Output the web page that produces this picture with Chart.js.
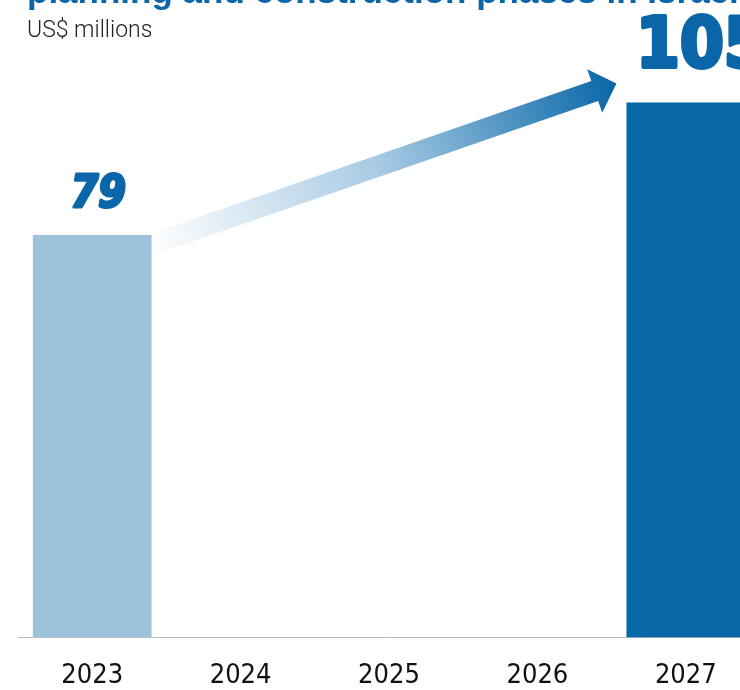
<!DOCTYPE html>
<html>
<head>
<meta charset="utf-8">
<script src="https://cdn.jsdelivr.net/npm/chart.js@4"></script>
<style>
  html, body { margin: 0; padding: 0; background: #fff; overflow: hidden; }
  #wrap { position: relative; width: 740px; height: 690px; overflow: hidden; }
  #title {
    position: absolute; left: 27px; top: -27px; white-space: nowrap;
    font: bold 35px "Liberation Sans", Arial, sans-serif; line-height: 35px; color: #0a66a8;
  }
  #sub {
    position: absolute; left: 27px; top: 16px; white-space: nowrap;
    font: 300 23px Roboto, "Liberation Sans", sans-serif; color: #222;
  }
  canvas { position: absolute; left: 0; top: 0; }
</style>
</head>
<body>
<div id="wrap">
  <canvas id="chart" width="760" height="690"></canvas>
  <div id="title">planning and construction phases in Israel</div>
  <div id="sub">US$ millions</div>
</div>
<script>
const years = ["2023", "2024", "2025", "2026", "2027"];
const spending = [79, null, null, null, 105];
const barColors = ["#9dc3dc", "#9dc3dc", "#9dc3dc", "#9dc3dc", "#0767a7"];
const valueLabels = ["79", "", "", "", "105"];

// value labels above the two bars
const labelPlugin = {
  id: "valueLabels",
  afterDatasetsDraw(chart) {
    const ctx = chart.ctx;
    const bars = chart.getDatasetMeta(0).data;
    ctx.save();
    ctx.fillStyle = "#0a66a8";
    ctx.strokeStyle = "#0a66a8";
    ctx.lineJoin = "round";
    ctx.textAlign = "center";
    ctx.textBaseline = "alphabetic";
    bars.forEach((bar, i) => {
      if (!valueLabels[i]) return;
      if (i === 0) {
        ctx.font = 'italic bold 44px "DejaVu Sans Condensed", "DejaVu Sans", sans-serif';
        ctx.lineWidth = 3;
        ctx.fillText(valueLabels[i], bar.x + 6, bar.y - 28);
        ctx.strokeText(valueLabels[i], bar.x + 6, bar.y - 28);
      } else {
        ctx.font = 'bold 70px "DejaVu Sans Condensed", "DejaVu Sans", sans-serif';
        ctx.lineWidth = 4;
        ctx.fillText(valueLabels[i], bar.x + 16, bar.y - 35);
        ctx.strokeText(valueLabels[i], bar.x + 16, bar.y - 35);
      }
    });
    ctx.restore();
  }
};

// gradient arrow from the first bar to the last one
const arrowPlugin = {
  id: "growthArrow",
  afterDatasetsDraw(chart) {
    const ctx = chart.ctx;
    const bars = chart.getDatasetMeta(0).data;
    const a = bars[0], b = bars[4];
    const xa = a.x + a.width / 2;
    const x0 = xa - 4, y0 = a.y + 11;
    const x1 = b.x - b.width / 2 - 10, y1 = b.y - 19;
    const ang = Math.atan2(y1 - y0, x1 - x0);
    const len = Math.hypot(x1 - x0, y1 - y0);
    const shaft = 10.5, head = 23, headLen = 23;
    const grad = ctx.createLinearGradient(x0, y0, x1, y1);
    grad.addColorStop(0, "rgba(255,255,255,1)");
    grad.addColorStop(0.5, "#a6c9e3");
    grad.addColorStop(1, "#0767a7");
    ctx.save();
    ctx.beginPath();
    ctx.rect(xa + 1, 0, chart.width, chart.height);
    ctx.clip();
    ctx.translate(x0, y0);
    ctx.rotate(ang);
    ctx.beginPath();
    ctx.moveTo(0, -shaft);
    ctx.lineTo(len - headLen, -shaft);
    ctx.lineTo(len - headLen, -head);
    ctx.lineTo(len, 0);
    ctx.lineTo(len - headLen, head);
    ctx.lineTo(len - headLen, shaft);
    ctx.lineTo(0, shaft);
    ctx.closePath();
    ctx.setTransform(1, 0, 0, 1, 0, 0);
    ctx.fillStyle = grad;
    ctx.fill();
    ctx.restore();
  }
};

new Chart(document.getElementById("chart"), {
  type: "bar",
  data: {
    labels: years,
    datasets: [{
      data: spending,
      backgroundColor: barColors,
      borderWidth: 0,
      categoryPercentage: 1,
      barPercentage: 0.8
    }]
  },
  options: {
    responsive: false,
    animation: false,
    layout: { padding: { left: 18, right: 0, top: 26, bottom: -24 } },
    plugins: {
      legend: { display: false },
      tooltip: { enabled: false }
    },
    scales: {
      x: {
        grid: { display: false, drawTicks: false },
        border: { display: true, color: "#bbbbbb", width: 1, dash: [1, 2] },
        ticks: {
          padding: 22,
          color: "#111",
          font: { family: '"Liberation Sans Narrow", "DejaVu Sans Condensed", sans-serif', size: 27 }
        }
      },
      y: {
        display: false,
        min: 0,
        max: 120
      }
    }
  },
  plugins: [arrowPlugin, labelPlugin]
});
</script>
</body>
</html>
